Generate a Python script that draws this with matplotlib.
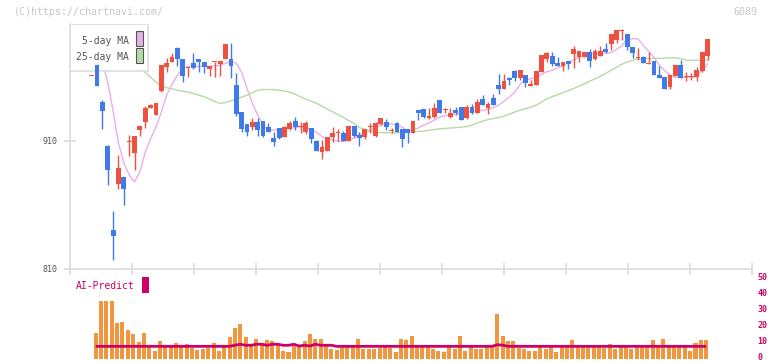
import numpy as np
import matplotlib
matplotlib.use("Agg")
import matplotlib.pyplot as plt
from matplotlib.patches import Rectangle
import matplotlib.transforms as mtransforms

# ---- data ----
opens = [961.0, 969.4, 940.7, 906.3, 840.5, 876.4, 881.9, 909.0, 900.6, 918.8,
         925.1, 935.5, 930.5, 949.1, 968.0, 972.0, 982.7, 974.6, 967.3, 970.9,
         974.6, 972.3, 966.3, 971.7, 970.7, 974.3, 974.6, 954.3, 932.7, 923.3,
         921.2, 924.6, 925.6, 921.2, 912.6, 919.9, 913.4, 919.1, 925.6, 921.0,
         917.3, 919.9, 910.0, 901.6, 902.4, 912.9, 916.3, 916.5, 910.2, 921.7,
         914.7, 912.9, 921.0, 913.9, 923.0, 924.8, 917.6, 924.3, 919.4, 919.4,
         916.5, 934.2, 935.0, 928.2, 928.5, 942.0, 934.0, 929.0, 934.2, 936.6,
         927.7, 936.6, 932.1, 942.6, 936.0, 943.4, 953.8, 950.6, 959.8, 964.7,
         959.8, 961.6, 953.2, 953.8, 964.1, 974.6, 976.4, 971.2, 968.6, 972.7,
         978.5, 975.9, 975.9, 979.5, 974.1, 976.6, 982.4, 985.8, 988.9, 996.2,
         994.1, 983.7, 975.0, 975.9, 970.6, 972.5, 961.6, 960.2, 952.4, 960.8,
         969.4, 960.1, 960.1, 960.2, 964.7, 976.4]
highs = [961.0, 969.4, 942.0, 906.9, 854.8, 899.1, 881.9, 914.7, 913.9, 921.7,
         937.1, 939.1, 939.7, 969.4, 974.8, 979.3, 983.7, 974.6, 968.0, 978.8,
         974.6, 972.3, 969.1, 971.7, 973.0, 985.8, 986.6, 963.4, 932.7, 923.3,
         928.0, 927.7, 925.6, 923.8, 917.3, 920.5, 921.5, 925.6, 929.0, 925.1,
         925.6, 920.3, 910.5, 910.8, 913.2, 921.2, 919.4, 918.0, 922.0, 922.0,
         917.3, 919.6, 924.3, 924.6, 928.3, 927.0, 919.9, 924.6, 919.6, 919.6,
         925.8, 934.4, 935.2, 936.0, 939.9, 942.2, 936.0, 936.0, 936.8, 936.8,
         938.1, 938.7, 942.6, 945.9, 940.7, 946.5, 962.3, 962.3, 960.0, 965.5,
         965.7, 961.8, 957.7, 965.0, 977.4, 979.8, 979.8, 975.9, 972.2, 972.9,
         984.2, 980.5, 979.7, 981.9, 982.4, 984.2, 987.1, 994.3, 996.9, 997.5,
         994.3, 983.9, 983.2, 976.4, 979.8, 972.7, 968.6, 960.4, 961.8, 969.6,
         973.3, 964.1, 963.7, 968.0, 979.7, 989.9]
lows = [961.0, 953.2, 919.1, 875.1, 816.5, 872.3, 860.0, 898.3, 887.3, 913.7,
        920.4, 935.5, 930.5, 948.3, 964.1, 972.0, 968.8, 956.3, 960.2, 966.8,
        964.1, 963.7, 960.8, 960.2, 961.3, 974.3, 959.8, 930.0, 917.3, 913.9,
        918.6, 913.9, 913.0, 917.0, 906.1, 911.5, 912.8, 918.8, 918.6, 916.5,
        915.5, 908.7, 901.8, 895.7, 902.0, 909.5, 910.0, 909.8, 910.0, 913.5,
        906.1, 911.6, 916.5, 913.5, 922.7, 918.6, 916.0, 917.0, 905.5, 908.2,
        916.2, 926.4, 928.3, 927.0, 928.3, 931.9, 931.6, 927.7, 930.3, 926.2,
        927.5, 931.4, 931.9, 937.9, 931.1, 937.9, 947.1, 950.4, 953.8, 957.1,
        957.7, 952.4, 953.0, 953.6, 963.9, 972.0, 968.6, 968.6, 964.9, 966.3,
        967.3, 972.0, 975.7, 968.0, 973.9, 976.4, 979.3, 981.6, 987.1, 988.9,
        981.1, 975.4, 973.3, 971.0, 970.5, 961.4, 959.3, 950.7, 950.9, 960.6,
        959.6, 957.1, 957.7, 957.1, 964.5, 973.8]
closes = [961.0, 953.2, 933.7, 887.6, 835.2, 888.9, 872.7, 909.0, 913.9, 921.7,
          936.0, 938.1, 939.7, 969.4, 971.2, 975.6, 974.6, 960.8, 967.3, 967.3,
          972.0, 968.0, 969.1, 971.7, 973.0, 985.8, 968.8, 930.9, 919.6, 917.3,
          924.6, 918.8, 913.9, 917.3, 909.5, 912.1, 921.2, 924.3, 921.2, 921.2,
          924.3, 911.6, 902.4, 905.1, 912.9, 916.5, 916.5, 910.2, 921.7, 913.9,
          912.1, 919.4, 921.2, 924.3, 928.0, 921.2, 917.8, 917.3, 911.6, 916.0,
          925.6, 932.1, 928.5, 929.8, 936.0, 932.1, 934.2, 932.1, 932.1, 926.4,
          936.6, 931.6, 940.7, 938.1, 938.7, 938.1, 950.9, 956.9, 957.7, 959.8,
          965.5, 955.5, 954.5, 964.7, 977.2, 979.0, 970.2, 968.8, 972.0, 970.2,
          981.9, 980.3, 979.5, 972.5, 980.3, 980.3, 979.5, 994.1, 996.7, 997.3,
          983.7, 979.0, 975.1, 971.2, 970.7, 961.6, 959.5, 950.9, 961.6, 969.4,
          959.8, 960.2, 960.2, 965.5, 979.5, 989.7]

# 5-day moving average (pink), read at candle indices
ma5_idx = [2, 3, 4, 5, 6, 7, 8, 9, 10, 11, 12, 13, 14, 15, 16, 17, 18, 20, 22, 24,
           25, 26, 27, 28, 29, 30, 31, 32, 33, 35, 36, 37, 38, 39, 40, 41, 42, 43,
           44, 45, 46, 47, 48, 49, 50, 51, 52, 53, 54, 55, 56, 57, 58, 59, 60, 61,
           62, 63, 64, 65, 66, 67, 68, 69, 70, 71, 72, 73, 74, 75, 76, 77, 78, 79,
           80, 81, 82, 83, 84, 85, 86, 87, 88, 89, 90, 91, 92, 93, 94, 95, 96, 97,
           98, 99, 100, 101, 102, 103, 104, 105, 106, 107, 108, 109, 110, 111,
           112, 113, 114, 115]
ma5_val = [971.7, 956.1, 933.4, 908.4, 892.8, 883.4, 878.0, 885.8, 901.4, 911.6,
           920.9, 932.7, 945.9, 954.5, 961.6, 967.0, 968.6, 968.6, 968.6, 969.4,
           970.9, 972.5, 970.9, 963.9, 951.4, 939.7, 930.3, 922.5, 918.6, 918.6,
           919.4, 919.9, 920.5, 921.2, 920.5, 919.0, 917.0, 913.4, 912.0, 910.8,
           909.6, 909.6, 910.4, 912.3, 914.7, 916.3, 918.6, 920.5, 922.5, 923.3,
           923.3, 922.1, 920.9, 917.8, 918.6, 920.2, 922.5, 924.1, 926.4, 928.8,
           929.9, 930.3, 931.1, 931.9, 932.7, 933.4, 934.2, 933.8, 935.0, 936.2,
           938.1, 941.3, 944.4, 948.3, 954.5, 958.0, 958.8, 959.6, 962.3, 964.3,
           965.5, 967.4, 969.0, 971.3, 973.7, 975.6, 977.2, 978.0, 978.4, 978.5,
           978.8, 979.3, 981.9, 984.6, 989.7, 990.2, 990.1, 985.0, 980.3, 975.6,
           969.4, 965.1, 961.6, 960.0, 959.8, 960.0, 960.2, 960.4, 965.5, 970.5]

# 25-day moving average (green), read at candle indices
ma25_idx = [9, 10, 11, 12, 13, 14, 15, 16, 17, 18, 19, 20, 21, 22, 23, 24, 25, 26,
            27, 28, 29, 30, 31, 32, 33, 34, 35, 36, 37, 38, 39, 40, 41, 42, 43, 44,
            45, 46, 47, 48, 49, 50, 51, 52, 53, 54, 55, 58, 59, 61, 62, 63, 64, 65,
            66, 67, 68, 69, 70, 71, 72, 73, 74, 75, 76, 77, 78, 79, 80, 81, 82, 83,
            84, 85, 86, 87, 88, 89, 90, 91, 92, 93, 94, 95, 96, 97, 98, 99, 100,
            101, 102, 103, 106, 108, 109, 110, 111, 115]
ma25_val = [967.0, 963.9, 960.0, 956.1, 953.4, 951.8, 951.0, 949.8, 949.1, 948.3,
            947.3, 945.9, 944.8, 942.8, 940.9, 939.5, 940.1, 941.6, 942.8, 944.4,
            945.9, 947.9, 949.8, 950.4, 950.4, 950.2, 949.8, 949.1, 948.3, 946.7,
            944.6, 942.8, 941.3, 939.5, 937.3, 935.0, 932.9, 930.7, 928.4, 926.0,
            923.7, 920.5, 919.0, 917.6, 917.0, 916.6, 916.5, 916.5, 917.0, 917.4,
            917.8, 918.4, 919.0, 919.6, 919.9, 920.2, 920.5, 920.9, 921.3, 922.5,
            924.1, 925.6, 926.8, 927.6, 928.4, 929.5, 931.1, 932.7, 934.2, 935.4,
            936.6, 938.1, 940.5, 943.2, 944.8, 946.3, 947.9, 949.5, 951.2, 953.0,
            954.9, 956.9, 958.8, 960.8, 963.1, 965.5, 967.8, 970.2, 972.0, 973.3,
            974.5, 974.6, 974.8, 975.2, 975.2, 974.6, 973.3, 973.3]

# volume bars (candles 1..115) and AI-Predict line, right-axis units
volume = [15.7, 35.9, 35.9, 35.9, 22.0, 22.8, 17.8, 15.1, 10.5, 15.7,
          7.3, 5.0, 10.7, 7.6, 7.6, 10.0, 7.6, 9.2, 6.3, 5.4,
          6.1, 6.3, 10.0, 5.0, 7.6, 13.2, 18.8, 21.3, 13.2, 7.6,
          11.9, 8.6, 11.5, 10.7, 8.6, 4.6, 3.8, 7.6, 7.6, 10.7,
          15.1, 11.9, 12.5, 7.6, 5.9, 5.4, 7.6, 7.6, 7.6, 12.5,
          5.9, 5.9, 5.9, 6.3, 7.6, 6.3, 3.8, 11.9, 11.3, 13.8,
          7.6, 7.6, 7.6, 5.9, 4.6, 3.8, 7.6, 5.9, 13.8, 4.6,
          7.6, 5.9, 5.9, 7.6, 7.6, 27.6, 13.8, 10.7, 10.7, 6.3,
          5.9, 4.6, 4.6, 7.6, 5.9, 7.6, 3.8, 7.6, 7.6, 11.3,
          7.6, 7.6, 7.6, 7.6, 7.6, 6.3, 9.2, 5.9, 7.6, 7.6,
          5.9, 7.6, 7.6, 7.6, 11.3, 7.6, 11.9, 7.6, 7.6, 7.6,
          7.6, 4.6, 9.8, 11.3, 11.3]
ai_predict = [7.6] * 26 + [8.3, 8.9, 8.25, 8.25, 8.9, 8.9, 8.25, 8.9, 8.9, 8.25,
              8.25, 8.9, 7.8, 8.3, 7.8, 8.9, 8.25, 8.25, 8.25] + [7.6] * 30 + \
             [8.6, 8.3] + [7.6] * 38

date_idx = [15, 25, 35, 45, 55, 65, 75, 85, 95, 105, 115]
date_lbl = ['4/22', '5/9', '5/23', '6/6', '6/20', '7/4', '7/18', '8/4', '8/19', '9/2', '9/17']
vol_ticks = [0, 10, 20, 30, 40, 50]

UP = '#f0513f'
DOWN = '#3f7ae8'
MA5 = '#e8b0e8'
MA25 = '#b4dba6'
AI = '#cc0066'
GRID = '#dddddd'
MONO = 'DejaVu Sans Mono'

W, H = 772, 361
fig = plt.figure(figsize=(W / 100, H / 100), dpi=100)

def fbox(l, t, r, b):
    return [l / W, 1 - b / H, (r - l) / W, (b - t) / H]

xlim = (-4.05, 123.3)

# main price chart
ax = fig.add_axes(fbox(70, 23.7, 752, 268.5))
ax.set_xlim(*xlim)
ax.set_ylim(810, 1002)
for s in ['top', 'right']:
    ax.spines[s].set_visible(False)
for s in ['left', 'bottom']:
    ax.spines[s].set_color(GRID)
    ax.spines[s].set_linewidth(1.2)

x = np.arange(len(opens))
o = np.array(opens); c = np.array(closes)
col = [UP if cc >= oo else DOWN for oo, cc in zip(o, c)]
ax.vlines(x, lows, highs, colors=col, lw=1.0, zorder=4)
body = np.maximum(np.abs(c - o), 0.8)
ax.bar(x, body, bottom=np.minimum(o, c), width=0.9, color=col, zorder=5, lw=0)

ax.plot(ma5_idx, ma5_val, color=MA5, lw=1.0, zorder=2)
ax.plot(ma25_idx, ma25_val, color=MA25, lw=1.0, zorder=2)

ax.set_yticks([810, 910])
ax.set_yticklabels(['810', '910'])
ax.set_xticks(np.linspace(xlim[0], xlim[1], 12))
ax.set_xticklabels([])
ax.tick_params(axis='both', direction='inout', color=GRID, width=1.2,
               labelsize=6, labelcolor='#555555')
ax.tick_params(axis='y', length=8, pad=5)
ax.tick_params(axis='x', length=8)
for t in ax.get_yticklabels():
    t.set_fontfamily(MONO)

tr = mtransforms.blended_transform_factory(ax.transData, ax.transAxes)
for i, lb in zip(date_idx, date_lbl):
    ax.text(i, -0.06, lb, transform=tr, ha='center', va='center',
            fontsize=6, color='#555555', family=MONO, clip_on=False)

# legend box (lines pass beneath, candles above)
ax.add_patch(Rectangle((70 / W, 1 - 71 / H), 78 / W, 47 / H, transform=fig.transFigure,
                       facecolor='white', edgecolor=GRID, lw=1.2, zorder=3))
fig.text(129 / W, 1 - 41 / H, '5-day MA', ha='right', va='center', fontsize=7,
         color='#555555', family=MONO)
fig.text(129 / W, 1 - 57 / H, '25-day MA', ha='right', va='center', fontsize=7,
         color='#555555', family=MONO)
fig.patches.append(Rectangle((136 / W, 1 - 46 / H), 7 / W, 15 / H, transform=fig.transFigure,
                             facecolor=MA5, edgecolor='#555555', lw=0.8))
fig.patches.append(Rectangle((136 / W, 1 - 63 / H), 7 / W, 15 / H, transform=fig.transFigure,
                             facecolor=MA25, edgecolor='#555555', lw=0.8))

# volume / AI-Predict panel
av = fig.add_axes(fbox(70, 278.5, 752, 358.5))
av.set_xlim(*xlim)
av.set_ylim(0, 50)
vx = np.arange(1, len(volume) + 1) - 0.25
av.bar(vx, volume, width=0.75, color='#f0963e', lw=0)
av.plot(vx, ai_predict, color=AI, lw=2.0, solid_capstyle='butt')
for s in av.spines.values():
    s.set_visible(False)
av.set_xticks([])
av.yaxis.tick_right()
av.set_yticks(vol_ticks)
av.set_yticklabels([str(v) for v in vol_ticks])
av.tick_params(axis='y', length=0, pad=4, labelsize=6, labelcolor=AI)
up = mtransforms.ScaledTranslation(0, 2.2 / 100, fig.dpi_scale_trans)
for t in av.get_yticklabels():
    t.set_fontfamily(MONO)
    t.set_fontweight('bold')
    t.set_transform(t.get_transform() + up)

fig.text(76 / W, 1 - 286 / H, 'AI-Predict', ha='left', va='center', fontsize=7,
         color=AI, family=MONO)
fig.patches.append(Rectangle((142 / W, 1 - 293 / H), 7 / W, 16 / H,
                             transform=fig.transFigure, facecolor=AI, lw=0))

fig.text(14 / W, 1 - 12 / H, '(C)https://chartnavi.com/', ha='left', va='center',
         fontsize=7.2, color='#c8c8c8', family=MONO)
fig.text(757 / W, 1 - 12 / H, '6089', ha='right', va='center', fontsize=7.2,
         color='#c8c8c8', family=MONO)

fig.savefig('out.png', dpi=100, facecolor='white')
